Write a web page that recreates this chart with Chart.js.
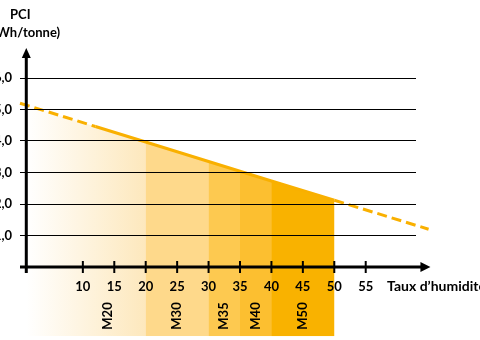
<!DOCTYPE html>
<html lang="fr">
<head>
<meta charset="utf-8">
<title>PCI du bois selon le taux d'humidité</title>
<script src="https://cdn.jsdelivr.net/npm/chart.js@4.4.1/dist/chart.umd.min.js"></script>
<style>
  html, body { margin: 0; padding: 0; width: 480px; height: 340px; overflow: hidden; background: #fff; }
  #wrap { position: relative; width: 480px; height: 340px; overflow: hidden; }
  #chart { position: absolute; left: -40px; top: 0; }
</style>
</head>
<body>
<div id="wrap"><canvas id="chart" width="560" height="340"></canvas></div>
<script>
// PCI (MWh/tonne) vs taux d'humidité (%)
const humidity = [0, 12, 20, 30, 35, 40, 50, 65];
const pci = [5.2, 4.46, 3.97, 3.35, 3.04, 2.73, 2.12, 1.2];
const solidFrom = 12, solidTo = 50;   // dashed outside this range

// moisture classes
const bandEdges = [0, 20, 30, 35, 40, 50];
const bandNames = ['M20', 'M30', 'M35', 'M40', 'M50'];
const bandLabelAt = [14, 25, 32.5, 37.5, 45];

const xTicks = [10, 15, 20, 25, 30, 35, 40, 45, 50, 55];
const yTicks = [1, 2, 3, 4, 5, 6];

const yTitle = ['PCI', '(MWh/tonne)'];
const xTitle = 'Taux d’humidité (%)';

// axis decoration (in data units)
const yAxisAt = 1, yAxisTop = 6.95, yAxisBottom = -0.19;
const xAxisEnd = 65.3, xTitleAt = 58.4;

const ORANGE = '#f9b000';
const bandColors = ['#fde8bd', '#fed98b', '#fdc950', '#fcbf30', '#f9b200'];
const FONT_FAMILY = 'Lato, "Open Sans", sans-serif';
const FONT = { family: FONT_FAMILY, size: 13, weight: 'bold' };

const points = humidity.map((h, k) => ({ x: h, y: pci[k] }));
const lastEdge = bandEdges[bandEdges.length - 1];

// each band runs to the last edge; later bands sit on top (no seams)
const bands = bandNames.map((name, i) => ({
    label: name,
    data: points.filter(p => p.x >= bandEdges[i] && p.x <= lastEdge),
    order: 10 - i,
    borderWidth: 0,
    pointRadius: 0,
    fill: { value: -2.2 },
    backgroundColor: i > 0 ? bandColors[i] : (c) => {
        const chart = c.chart;
        if (!chart.chartArea) return bandColors[0];
        const x = chart.scales.x;
        const g = chart.ctx.createLinearGradient(x.getPixelForValue(yAxisAt), 0, x.getPixelForValue(bandEdges[1]), 0);
        g.addColorStop(0, '#ffffff');
        g.addColorStop(1, bandColors[0]);
        return g;
    }
}));

const line = {
    label: 'PCI',
    data: points,
    order: 0,
    borderColor: ORANGE,
    borderWidth: 3,
    pointRadius: 0,
    fill: false,
    clip: false,
    segment: {
        borderDash: (c) => (c.p0.parsed.x < solidFrom || c.p0.parsed.x >= solidTo) ? [10, 5] : undefined
    }
};

const decor = {
    id: 'decor',
    afterDraw(chart) {
        const { ctx, scales: { x, y } } = chart;
        const ax = x.getPixelForValue(yAxisAt);
        const ay = y.getPixelForValue(0);
        const yTop = y.getPixelForValue(yAxisTop);
        const xEnd = x.getPixelForValue(xAxisEnd);
        ctx.save();
        ctx.strokeStyle = '#000';
        ctx.fillStyle = '#000';
        ctx.lineWidth = 3;

        // y axis + arrow
        ctx.beginPath();
        ctx.moveTo(ax, y.getPixelForValue(yAxisBottom));
        ctx.lineTo(ax, yTop + 8);
        ctx.stroke();
        ctx.beginPath();
        ctx.moveTo(ax, yTop);
        ctx.lineTo(ax - 4.5, yTop + 10);
        ctx.lineTo(ax + 4.5, yTop + 10);
        ctx.closePath();
        ctx.fill();

        // x axis + arrow
        ctx.beginPath();
        ctx.moveTo(x.getPixelForValue(0), ay);
        ctx.lineTo(xEnd - 8, ay);
        ctx.stroke();
        ctx.beginPath();
        ctx.moveTo(xEnd, ay);
        ctx.lineTo(xEnd - 10, ay - 5);
        ctx.lineTo(xEnd - 10, ay + 5);
        ctx.closePath();
        ctx.fill();

        // tick marks
        ctx.lineWidth = 2;
        x.ticks.forEach(t => {
            const px = x.getPixelForValue(t.value);
            ctx.beginPath();
            ctx.moveTo(px, ay - 6);
            ctx.lineTo(px, ay + 6);
            ctx.stroke();
        });

        // titles
        ctx.font = 'bold 13px ' + FONT_FAMILY;
        ctx.textAlign = 'center';
        ctx.textBaseline = 'middle';
        ctx.fillText(yTitle[0], ax - 6, 15);
        ctx.fillText(yTitle[1], ax - 6, 33);
        ctx.font = 'bold 14px ' + FONT_FAMILY;
        ctx.textAlign = 'left';
        ctx.fillText(xTitle, x.getPixelForValue(xTitleAt), ay + 19);

        // class labels, rotated
        ctx.font = 'bold 13px ' + FONT_FAMILY;
        ctx.textAlign = 'center';
        bandNames.forEach((n, i) => {
            ctx.save();
            ctx.translate(x.getPixelForValue(bandLabelAt[i]), ay + 49);
            ctx.rotate(-Math.PI / 2);
            ctx.fillText(n, 0, 0);
            ctx.restore();
        });
        ctx.restore();
    }
};

new Chart(document.getElementById('chart'), {
    type: 'line',
    data: { datasets: [line, ...bands] },
    options: {
        responsive: false,
        animation: false,
        layout: { autoPadding: false, padding: { left: 0, right: 104, top: 46.5, bottom: 3.7 } },
        plugins: { legend: { display: false }, tooltip: { enabled: false } },
        scales: {
            x: {
                type: 'linear', min: 0, max: 63,
                position: { y: 0 },
                afterBuildTicks: (s) => { s.ticks = xTicks.map(v => ({ value: v })); },
                grid: { display: false },
                border: { display: false },
                ticks: { z: 1, font: FONT, color: '#000', padding: 4, maxRotation: 0, autoSkip: false }
            },
            y: {
                type: 'linear', min: -2.2, max: 7,
                position: 'left',
                afterFit: (s) => { s.width = 60; s.paddingTop = 0; s.paddingBottom = 0; },
                afterBuildTicks: (s) => { s.ticks = yTicks.map(v => ({ value: v })); },
                grid: { color: '#000', lineWidth: 1, drawTicks: false, z: 1 },
                border: { display: false },
                ticks: { z: 1, font: FONT, color: '#000', padding: 8, callback: (v) => v.toFixed(1).replace('.', ',') }
            }
        }
    },
    plugins: [decor]
});
</script>
</body>
</html>
